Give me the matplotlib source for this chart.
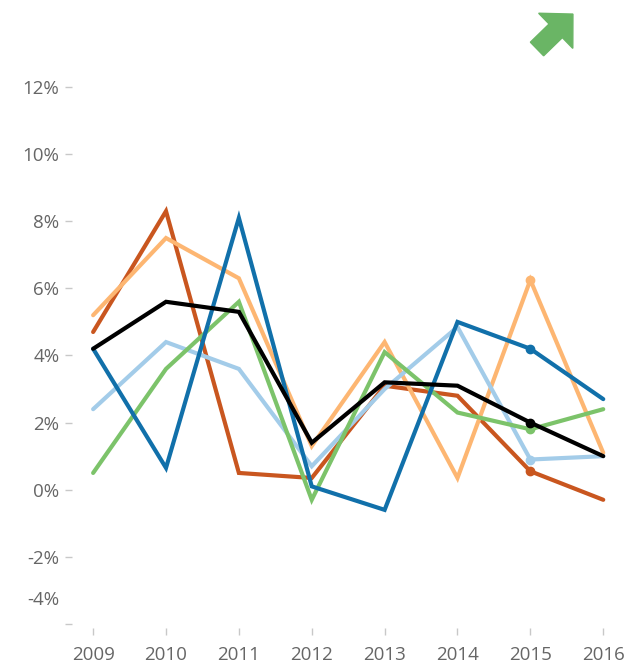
import matplotlib
matplotlib.use("Agg")
import matplotlib.pyplot as plt
from matplotlib.patches import FancyArrow
from matplotlib.transforms import IdentityTransform, ScaledTranslation

years = [2009, 2010, 2011, 2012, 2013, 2014, 2015, 2016]

dark_orange = [4.7, 8.3, 0.5, 0.35, 3.1, 2.8, 0.55, -0.3]
light_orange = [5.2, 7.5, 6.3, 1.3, 4.4, 0.35, 6.25, 1.1]
light_blue = [2.4, 4.4, 3.6, 0.7, 3.0, 4.85, 0.9, 1.0]
green = [0.5, 3.6, 5.6, -0.3, 4.1, 2.3, 1.8, 2.4]
dark_blue = [4.2, 0.65, 8.1, 0.1, -0.6, 5.0, 4.2, 2.7]
average = [4.2, 5.6, 5.3, 1.4, 3.2, 3.1, 2.0, 1.0]

y_ticks = [-4, -2, 0, 2, 4, 6, 8, 10, 12]
y_labels = [f"{v}%" for v in y_ticks]

series = [
    (dark_orange, "#c9561f"),
    (light_orange, "#fdb672"),
    (light_blue, "#a3cce9"),
    (green, "#7cc36a"),
    (dark_blue, "#1170aa"),
    (average, "#000000"),
]

W, H = 627, 663
fig = plt.figure(figsize=(W / 100, H / 100), dpi=100)
ax = fig.add_axes([72 / W, 35 / H, (620 - 72) / W, (576 - 35) / H])

for values, color in series:
    ax.plot(years, values, color=color, linewidth=3.0, solid_joinstyle="miter",
            solid_capstyle="round", marker="o", markevery=[6], markersize=6)

ax.set_xlim(2008.71, 2016.23)
ax.set_ylim(-4.12, 12)
ax.set_xticks(years)
ax.set_xticklabels([str(y) for y in years])
ax.set_yticks(y_ticks)
ax.set_yticklabels(y_labels)

for side in ["top", "right", "left", "bottom"]:
    ax.spines[side].set_visible(False)

ax.tick_params(axis="both", colors="#c8c8c8", length=5, width=1,
               labelsize=13.5, labelcolor="#666666")
ax.tick_params(axis="x", pad=8)
ax.tick_params(axis="y", pad=4)
for lab in ax.get_xticklabels() + ax.get_yticklabels():
    lab.set_family("Open Sans")

# the lowest label sits above its tick
low = ax.get_yticklabels()[0]
low.set_transform(low.get_transform() + ScaledTranslation(0, 26 / 100, fig.dpi_scale_trans))

# green trend arrow in the corner
arrow = FancyArrow(537, H - 49, 36 * 0.52, 35 * 0.52, width=19, head_width=49,
                   head_length=24, length_includes_head=False,
                   color="#6ab565", transform=IdentityTransform())
fig.patches.append(arrow)

fig.savefig("out.png", dpi=100)
